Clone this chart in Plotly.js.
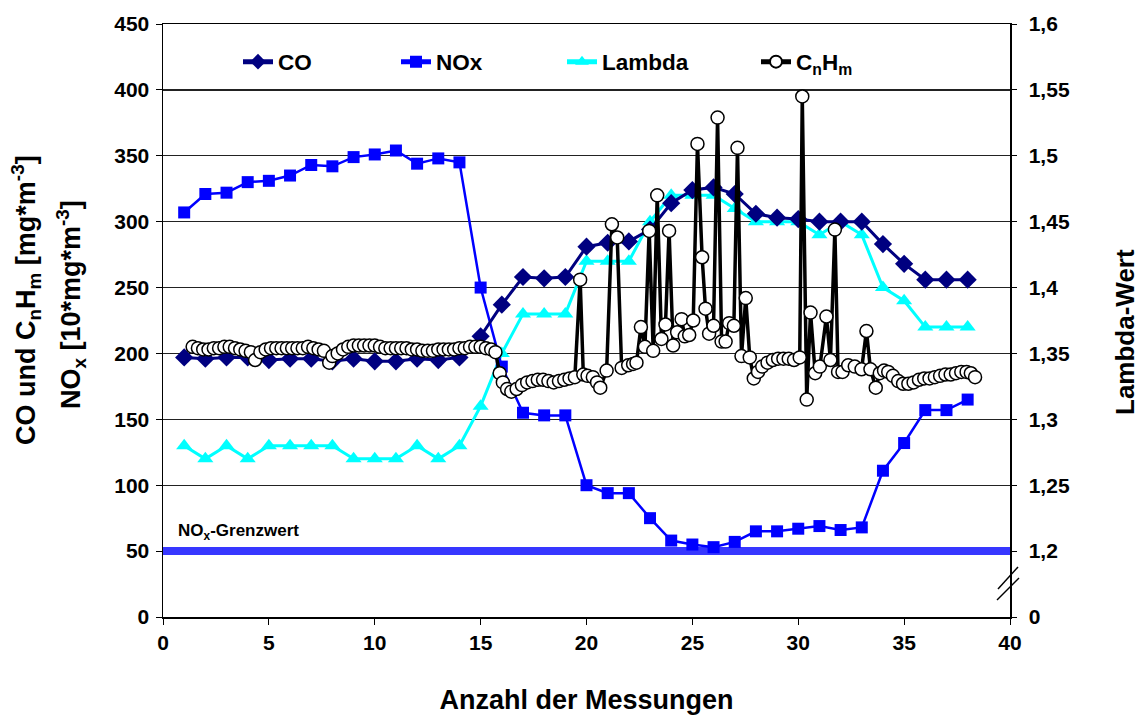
<!DOCTYPE html>
<html><head><meta charset="utf-8">
<script src="https://cdn.plot.ly/plotly-3.0.1.min.js"></script>
<style>html,body{margin:0;padding:0;background:#fff;}#chart{width:1139px;height:715px;}</style>
</head><body><div id="chart"></div>
<script>
// ---- data ----
const measurements = [1,2,3,4,5,6,7,8,9,10,11,12,13,14,15,16,17,18,19,20,21,22,23,24,25,26,27,28,29,30,31,32,33,34,35,36,37,38];
const coValues = [197,196,197,197,195,196,196,194,196,194,194,196,195,197,213,237,258,257,258,281,284,285,294,314,324,326,321,306,303,302,300,300,300,283,268,256,256,256];
const noxValues = [307,321,322,330,331,335,343,342,349,351,354,344,348,345,250,190,155,153,153,100,94,94,75,58,55,53,57,65,65,67,69,66,68,111,132,157,157,165];
const lambdaValues = [1.28,1.27,1.28,1.27,1.28,1.28,1.28,1.28,1.27,1.27,1.27,1.28,1.27,1.28,1.31,1.35,1.38,1.38,1.38,1.42,1.42,1.42,1.45,1.47,1.47,1.47,1.46,1.45,1.45,1.45,1.44,1.45,1.44,1.40,1.39,1.37,1.37,1.37];
const cnhmX = [
 1.4,1.65,1.9,2.15,2.4,2.65,2.9,3.15,3.4,3.65,3.9,4.15,
 4.35,
 4.6,4.85,5.1,5.35,5.6,5.85,6.1,6.35,6.6,6.85,7.1,7.35,7.6,7.85,
 8.0,8.25,8.5,8.75,9.0,9.25,9.5,9.75,10.0,10.25,10.5,10.75,11.0,11.25,11.5,11.75,12.0,12.25,12.5,12.75,13.0,13.25,13.5,13.75,14.0,14.25,14.5,14.75,15.0,15.25,15.5,
 15.7,
 15.9,16.05,16.25,16.45,16.7,16.95,17.2,17.45,17.7,17.95,18.2,18.45,18.7,18.95,19.2,19.45,
 19.7,19.85,20.05,20.3,20.5,20.65,20.95,21.2,21.45,21.66,21.97,22.2,22.36,
 22.57,22.76,22.96,23.15,23.34,23.54,23.73,23.9,24.09,24.28,24.49,24.64,24.85,
 25.04,25.24,25.46,25.62,25.79,26.0,26.19,26.38,26.57,26.74,26.96,27.13,27.32,27.52,27.71,27.9,
 28.1,28.3,28.55,28.8,29.05,29.3,29.55,29.8,30.07,30.19,30.4,30.58,30.8,31.02,
 31.33,31.52,31.73,31.88,32.09,32.36,32.67,32.99,33.22,33.41,33.66,33.85,
 34.05,34.25,34.47,34.72,34.95,35.2,35.45,35.7,35.95,36.2,36.45,36.7,36.95,37.2,37.45,37.7,37.95,38.15,38.35];
const cnhmValues = [
 205,204,203,203,204,204,205,205,204,203,202,201,
 195,
 201,203,204,204,204,204,204,204,204,205,204,203,202,193,
 198,200,203,205,206,206,206,206,206,205,204,204,204,204,204,203,203,202,202,202,203,203,203,203,204,204,205,205,205,204,203,
 201,
 185,178,173,171,173,176,178,179,180,180,179,178,179,180,181,182,
 256,184,183,182,178,174,187,298,288,189,191,192,193,
 220,205,293,202,320,211,222,293,206,216,226,213,214,
 225,359,273,234,215,221,379,209,209,223,221,356,198,242,197,181,
 186,190,193,195,196,196,196,195,197,395,165,231,185,190,
 228,195,294,186,186,191,190,188,217,188,174,185,
 187,186,183,179,177,177,178,180,181,181,182,183,184,184,185,186,186,185,182];
const noxLimit = 50;
const noxLimitLabel = 'NO<sub>x</sub>-Grenzwert';
const xTicks = [0,5,10,15,20,25,30,35,40];
const leftTicks = [0,50,100,150,200,250,300,350,400,450];
const lambdaTickVals = [1.15,1.2,1.25,1.3,1.35,1.4,1.45,1.5,1.55,1.6];
const lambdaTickText = ['0','1,2','1,25','1,3','1,35','1,4','1,45','1,5','1,55','1,6'];

// ---- layout helpers ----
const W = 1139, H = 715, L = 163, R = 1010, T = 24, B = 617;
const px = x => (x - L) / (R - L);
const py = y => (B - y) / (B - T);
const FAM = 'Liberation Sans, Arial, sans-serif';
const bold = (size) => ({family: FAM, size: size, color: '#000', weight: 700});

const traces = [
  {x: measurements, y: lambdaValues, yaxis: 'y', name: 'Lambda', legend: 'legend3',
   mode: 'lines+markers', line: {color: '#00ffff', width: 3},
   marker: {symbol: 'triangle-up', size: 14, color: '#00ffff'}},
  {x: [0, 40], y: [noxLimit, noxLimit], yaxis: 'y2', showlegend: false, hoverinfo: 'skip',
   mode: 'lines', line: {color: 'rgb(55,55,255)', width: 8}},
  {x: measurements, y: noxValues, yaxis: 'y2', name: 'NOx', legend: 'legend2',
   mode: 'lines+markers', line: {color: '#0000ff', width: 2.5},
   marker: {symbol: 'square', size: 12, color: '#0000ff'}},
  {x: measurements, y: coValues, yaxis: 'y2', name: 'CO', legend: 'legend',
   mode: 'lines+markers', line: {color: '#000080', width: 3},
   marker: {symbol: 'diamond', size: 14, color: '#000080'}},
  {x: cnhmX, y: cnhmValues, yaxis: 'y2', name: 'C<sub>n</sub>H<sub>m</sub>', legend: 'legend4',
   mode: 'lines+markers', line: {color: '#000', width: 3.5},
   marker: {symbol: 'circle', size: 13, color: '#fff', line: {color: '#000', width: 1.5}}}
];

const legendBase = (x) => ({x: px(x), y: py(62), xanchor: 'left', yanchor: 'middle',
  orientation: 'h', bgcolor: 'rgba(0,0,0,0)', font: bold(22.5), itemsizing: 'constant'});

const layout = {
  width: W, height: H,
  margin: {l: L, r: W - R, t: T, b: H - B},
  paper_bgcolor: '#fff', plot_bgcolor: '#fff',
  xaxis: {range: [0, 40], tickvals: xTicks, showgrid: false, zeroline: false,
    showline: true, mirror: true, linecolor: '#000', linewidth: 1.5, ticks: 'outside', ticklen: 6, tickcolor: '#000',
    tickfont: bold(21),
    title: {text: 'Anzahl der Messungen', font: bold(27), standoff: 40}},
  yaxis: {range: [1.15, 1.6], side: 'right', tickvals: lambdaTickVals, ticktext: lambdaTickText,
    showgrid: false, zeroline: false, showline: true, linecolor: '#000', linewidth: 1.5,
    ticks: 'outside', ticklen: 5, tickcolor: '#000', tickfont: bold(21), ticklabelstandoff: 8},
  yaxis2: {range: [0, 450], overlaying: 'y', side: 'left', tickvals: leftTicks,
    showgrid: true, gridcolor: '#222', gridwidth: 1.4, zeroline: false,
    showline: true, linecolor: '#000', linewidth: 1.5, ticks: 'outside', ticklen: 6, tickcolor: '#000',
    tickfont: bold(21), ticklabelstandoff: 2},
  legend: legendBase(238),
  legend2: legendBase(396),
  legend3: legendBase(562),
  legend4: legendBase(756),
  annotations: [
    {xref: 'paper', yref: 'paper', x: px(26), y: py(300), textangle: -90, showarrow: false,
     xanchor: 'center', yanchor: 'middle',
     text: 'CO und C<sub>n</sub>H<sub>m</sub> [mg*m<sup>-3</sup>]', font: bold(27)},
    {xref: 'paper', yref: 'paper', x: px(71), y: py(305), textangle: -90, showarrow: false,
     xanchor: 'center', yanchor: 'middle',
     text: 'NO<sub>x</sub> [10*mg*m<sup>-3</sup>]', font: bold(27)},
    {xref: 'paper', yref: 'paper', x: px(1125), y: py(332), textangle: -90, showarrow: false,
     xanchor: 'center', yanchor: 'middle',
     text: 'Lambda-Wert', font: bold(26)},
    {xref: 'x', yref: 'y2', x: 0.6, y: noxLimit + 5, xanchor: 'left', yanchor: 'bottom', showarrow: false,
     text: noxLimitLabel, font: bold(17)}
  ],
  shapes: [
    {type: 'line', xref: 'paper', yref: 'paper', x0: px(998), y0: py(589), x1: px(1018), y1: py(567),
     line: {color: '#000', width: 1.5}},
    {type: 'line', xref: 'paper', yref: 'paper', x0: px(997), y0: py(600), x1: px(1019), y1: py(578),
     line: {color: '#000', width: 1.5}}
  ],
  showlegend: true
};

Plotly.newPlot('chart', traces, layout, {displayModeBar: false, staticPlot: true});
</script>
</body></html>
